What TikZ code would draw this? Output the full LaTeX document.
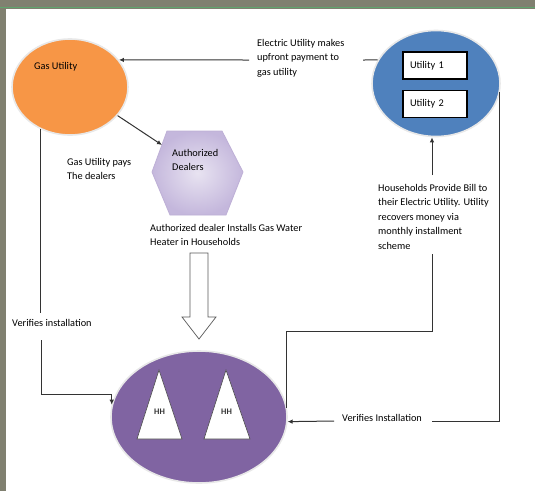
\documentclass[tikz,border=0pt]{standalone}
\usepackage{fontspec}
\setmainfont{Carlito}
\usetikzlibrary{shapes.geometric,arrows.meta,calc}
\definecolor{bandgray}{RGB}{128,128,112}
\definecolor{bandgreen}{RGB}{96,165,110}
\definecolor{gasorange}{RGB}{247,150,70}
\definecolor{elecblue}{RGB}{79,129,189}
\definecolor{hhpurple}{RGB}{128,100,162}
\definecolor{hexdark}{RGB}{196,183,220}
\definecolor{hexlight}{RGB}{232,227,241}
\definecolor{hexedge}{RGB}{190,176,214}
\begin{document}
\begin{tikzpicture}[x=1pt,y=-1pt,
  txt/.style={inner sep=0pt, anchor=north west, align=left, font=\fontsize{10.3}{14.5}\selectfont, text=black},
  conn/.style={draw=black!80, line width=1pt},
  tip/.style={-{Latex[length=5pt,width=4.5pt]}},
  ell/.style={ellipse, draw=gray!18, line width=1.6pt, inner sep=0pt},
  ubox/.style={draw=black, line width=1.1pt, fill=white, minimum width=64pt, minimum height=27pt, text width=50pt, inner xsep=7pt, align=left, font=\fontsize{10.3}{12}\selectfont}
]
\useasboundingbox (0,0) rectangle (535,491);
% frame
\fill[bandgray] (0,0) rectangle (535,491);
\fill[bandgreen] (0,6.8) rectangle (535,8.2);
\fill[white] (6,9) rectangle (535,491);

% ellipses
\node[ell, fill=gasorange, minimum width=116pt, minimum height=96pt] (gas) at (70,87) {};
\node[ell, fill=elecblue, minimum width=128pt, minimum height=106pt] (blue) at (436,83.5) {};
\node[ell, fill=hhpurple, minimum width=176pt, minimum height=132pt] (hh) at (199,417) {};

% texts in ellipses
\node[txt] (gastxt) at (34,62) {Gas Utility};
\node[ubox] (u1) at (435,65.5) {Utility 1};
\node[ubox] (u2) at (435,104) {Utility 2};

% hexagon
\coordinate (hexa) at (162,145);
\shade[inner color=hexlight, outer color=hexdark, draw=hexedge, line width=0.8pt]
  (152,172) -- (167,131) -- (222,131) -- (243,172) -- (226,215) -- (170,215) -- cycle;
\node[txt] (dealers) at (172,149) {Authorized\\Dealers};

% triangles
\draw[fill=white, draw=black!70, line width=0.6pt] (159,370) -- (182,439) -- (137,439) -- cycle;
\draw[fill=white, draw=black!70, line width=0.6pt] (226,370) -- (250,439) -- (204,439) -- cycle;
\node[inner sep=0pt, font=\fontsize{8.5}{10}\selectfont\bfseries, text=black!80] (hh1) at (159.5,412) {HH};
\node[inner sep=0pt, font=\fontsize{8.5}{10}\selectfont\bfseries, text=black!80] (hh2) at (226.5,412) {HH};

% big hollow arrow
\draw[fill=white, draw=black!65, line width=0.7pt]
  (190,253) -- (208,253) -- (208,317) -- (216,317) -- (199,339) -- (182,317) -- (190,317) -- cycle;

% labels
\node[txt] (pay) at (257,39) {Electric Utility makes\\upfront payment to\\gas utility};
\node[txt] (gpays) at (67,158) {Gas Utility pays\\The dealers};
\node[txt] (install) at (150,224) {Authorized dealer Installs Gas Water\\Heater in Households};
\node[txt] (bill) at (378,184) {Households Provide Bill to\\their Electric Utility. Utility\\recovers money via\\monthly installment\\scheme};
\node[txt] (verl) at (12,319) {Verifies installation};
\node[txt] (verr) at (342,414) {Verifies Installation};

% connectors
\coordinate (c1) at (363,60);
\coordinate (c2) at (249,60);
\draw[conn] (blue.158) -- (c1);
\draw[conn,tip] (c2) -- (gas.29);

\draw[conn,tip] (gas.-31) -- (hexa);

\coordinate (l1) at (41,313);
\coordinate (l2) at (41,340);
\coordinate (l3) at (41,394);
\draw[conn] (gas.235) -- (gas.235 |- l1);
\draw[conn,tip] (l2) -- (l3) -| (hh.172);

\coordinate (h1) at (432,175);
\coordinate (h2) at (432,254);
\coordinate (h3) at (432,331);
\draw[conn,tip] (h1) -- (h1 |- blue.south);
\draw[conn] (h2) -- (h3) -| (hh.6);

\coordinate (r1) at (432,421);
\coordinate (r2) at (334,421);
\draw[conn] (blue.-8) -- (blue.-8 |- r1) -- (r1);
\draw[conn,tip] (r2) -- (hh.-3);
\end{tikzpicture}
\end{document}
